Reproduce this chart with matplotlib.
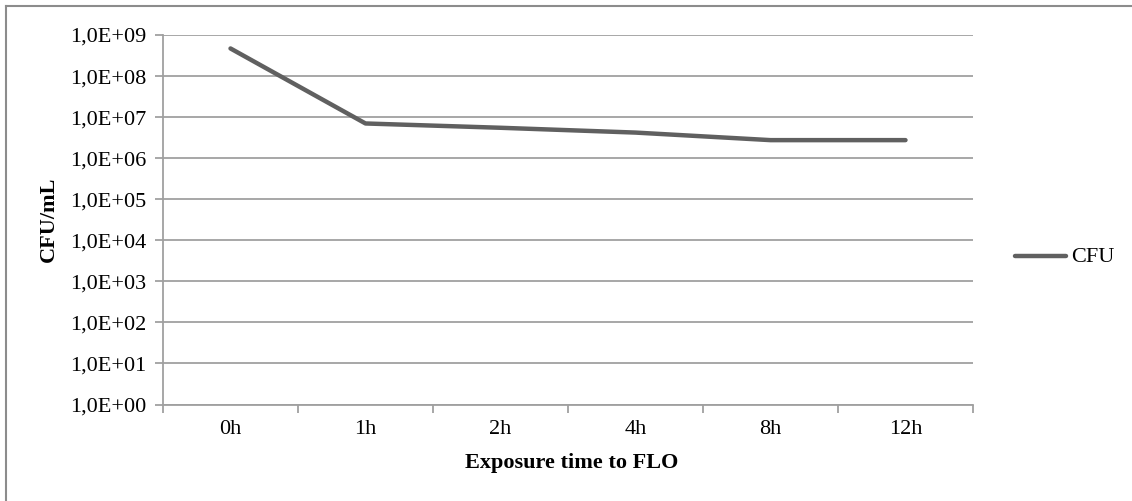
import matplotlib
matplotlib.use("Agg")
import matplotlib.pyplot as plt
from matplotlib.lines import Line2D
from matplotlib.ticker import FixedLocator, NullFormatter

categories = ["0h", "1h", "2h", "4h", "8h", "12h"]
cfu = [4.7e8, 7.0e6, 5.5e6, 4.2e6, 2.75e6, 2.75e6]
ytick_values = [1e0, 1e1, 1e2, 1e3, 1e4, 1e5, 1e6, 1e7, 1e8, 1e9]
ytick_labels = ["1,0E+00", "1,0E+01", "1,0E+02", "1,0E+03", "1,0E+04",
                "1,0E+05", "1,0E+06", "1,0E+07", "1,0E+08", "1,0E+09"]

plt.rcParams['font.family'] = ['Liberation Serif', 'DejaVu Serif']

W, H = 1132, 501
fig = plt.figure(figsize=(W / 100, H / 100), dpi=100)

def fx(px):
    return px / W

def fy(py):
    return 1 - py / H

ax = fig.add_axes([fx(163), fy(404.5), fx(973) - fx(163), fy(35) - fy(404.5)])

FS = 16
line_color = "#606060"
grid_color = "#A0A0A0"
x = list(range(len(categories)))
ax.plot(x, cfu, color=line_color, lw=3.2, solid_capstyle="round",
        solid_joinstyle="round", label="CFU", zorder=3)

ax.set_yscale("log")
ax.set_ylim(1e0, 1e9)
ax.set_xlim(-0.5, len(categories) - 0.5)
ax.yaxis.set_major_locator(FixedLocator(ytick_values))
ax.set_yticklabels(ytick_labels)
ax.yaxis.set_minor_locator(FixedLocator([]))
ax.yaxis.set_minor_formatter(NullFormatter())
ax.grid(axis="y", which="major", color=grid_color, lw=1.3, zorder=0)

ax.set_xticks(x)
ax.set_xticklabels(categories)
ax.set_xticks([i - 0.5 for i in range(len(categories) + 1)], minor=True)
ax.tick_params(axis="x", which="major", length=0, pad=11, labelsize=FS)
ax.tick_params(axis="x", which="minor", length=6, width=1.3, color=grid_color, direction="out")
ax.tick_params(axis="y", which="major", length=6, width=1.3, color=grid_color,
               direction="out", pad=6, labelsize=FS)

for s in ["top", "right"]:
    ax.spines[s].set_visible(False)
for s in ["left", "bottom"]:
    ax.spines[s].set_color(grid_color)
    ax.spines[s].set_linewidth(1.3)

fig.text(fx(49), fy(219), "CFU/mL", rotation=90, ha="center", va="center",
         fontsize=FS, fontweight="bold")
fig.text(fx(572), fy(463), "Exposure time to FLO", ha="center", va="center",
         fontsize=FS, fontweight="bold")

# legend
fig.add_artist(Line2D([fx(1015), fx(1066)], [fy(256), fy(256)], color=line_color,
                      lw=3.2, solid_capstyle="round"))
fig.text(fx(1071), fy(257), "CFU", ha="left", va="center", fontsize=FS)

# outer border (top and left visible)
fig.add_artist(Line2D([fx(6), fx(6)], [fy(6), 0], color="#8C8C8C", lw=1.5))
fig.add_artist(Line2D([fx(6), 1], [fy(6), fy(6)], color="#8C8C8C", lw=1.5))

fig.savefig("out.png", dpi=100)
